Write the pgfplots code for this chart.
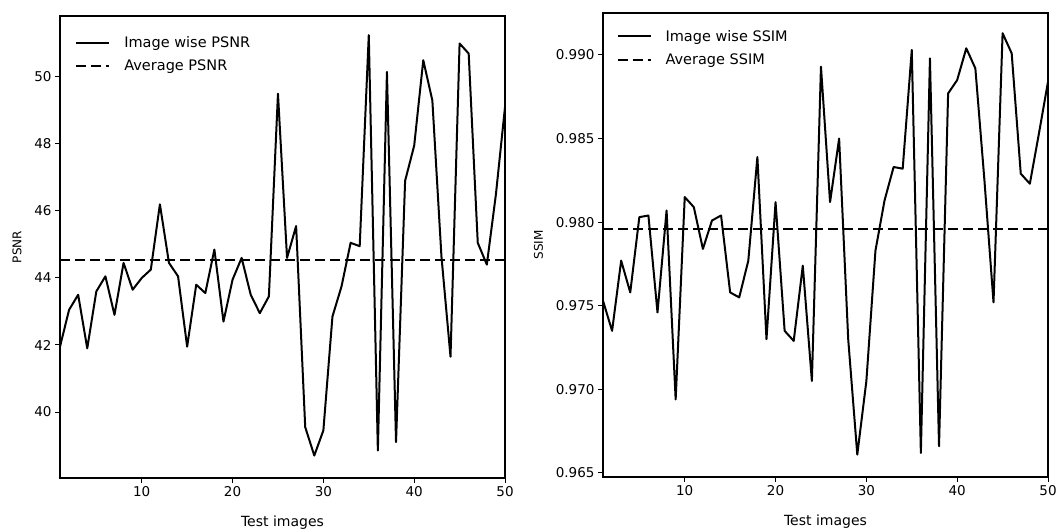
\documentclass[border=0pt]{standalone}
\usepackage{fontspec}
\setmainfont{DejaVu Sans}
\usepackage{pgfplots}
\pgfplotsset{compat=1.18}
\pgfplotstableread{
x y
1 41.95
2 43.05
3 43.5
4 41.9
5 43.6
6 44.05
7 42.9
8 44.45
9 43.65
10 44.0
11 44.25
12 46.2
13 44.45
14 44.05
15 41.95
16 43.8
17 43.55
18 44.85
19 42.7
20 43.95
21 44.6
22 43.5
23 42.95
24 43.45
25 49.5
26 44.6
27 45.55
28 39.55
29 38.7
30 39.45
31 42.85
32 43.75
33 45.05
34 44.95
35 51.25
36 38.85
37 50.15
38 39.1
39 46.9
40 47.95
41 50.5
42 49.3
43 44.65
44 41.65
45 51.0
46 50.7
47 45.05
48 44.4
49 46.5
50 49.1
}\psnr
\pgfplotstableread{
x y
1 0.9753
2 0.9735
3 0.9777
4 0.9758
5 0.9803
6 0.9804
7 0.9746
8 0.9807
9 0.9694
10 0.9815
11 0.9809
12 0.9784
13 0.9801
14 0.9804
15 0.9758
16 0.9755
17 0.9777
18 0.9839
19 0.9730
20 0.9812
21 0.9735
22 0.9729
23 0.9774
24 0.9705
25 0.9893
26 0.9812
27 0.9850
28 0.9730
29 0.9661
30 0.9705
31 0.9783
32 0.9813
33 0.9833
34 0.9832
35 0.9903
36 0.9662
37 0.9898
38 0.9666
39 0.9877
40 0.9885
41 0.9904
42 0.9892
43 0.9825
44 0.9752
45 0.9913
46 0.9901
47 0.9829
48 0.9823
49 0.9853
50 0.9884
}\ssim
\pgfplotsset{
  common/.style={
    scale only axis,
    width=445pt,
    xmin=1, xmax=50,
    xtick={10,20,30,40,50},
    tick align=outside,
    major tick length=5pt,
    tick style={line width=1pt, black},
    axis line style={line width=1.3pt},
    tick pos=left,
    /pgf/number format/assume math mode=true,
    ticklabel style={font=\fontsize{13.5}{16}\selectfont},
    xlabel={Test images},
    xlabel style={font=\fontsize{14}{16}\selectfont, yshift=-12pt},
    ylabel style={font=\fontsize{12}{14}\selectfont, yshift=6pt},
    legend cell align=left,
    legend style={draw=none, fill=none, font=\fontsize{14.5}{17}\selectfont,
      anchor=north west, inner sep=0pt, row sep=7pt,
      /tikz/every odd column/.append style={column sep=12pt}},
    legend image code/.code={\draw[##1] (0pt,0pt) -- (33pt,0pt);},
  },
  sline/.style={black, line width=2pt, line join=round},
  dline/.style={black, line width=2pt, dash pattern=on 10pt off 5pt},
}
\begin{document}
\begin{tikzpicture}
\path[use as bounding box] (-60pt,-53pt) rectangle (999pt,478pt);
\begin{axis}[common,
  at={(0pt,0pt)}, anchor=south west,
  height=462pt,
  ymin=38.03, ymax=51.82,
  ytick={40,42,44,46,48,50},
  ylabel={PSNR},
  legend style={at={(rel axis cs:0.034,0.96)}},
]
\addplot[sline] table[x=x,y=y]{\psnr};
\addlegendentry{Image wise PSNR}
\addplot[dline] coordinates {(1,44.55) (50,44.55)};
\addlegendentry{Average PSNR}
\end{axis}
\begin{axis}[common,
  at={(543pt,1pt)}, anchor=south west,
  height=464pt,
  ymin=0.96476, ymax=0.99251,
  ytick={0.965,0.970,0.975,0.980,0.985,0.990},
  yticklabels={0.965,0.970,0.975,0.980,0.985,0.990},
  ylabel={SSIM},
  legend style={at={(rel axis cs:0.03,0.968)}},
]
\addplot[sline] table[x=x,y=y]{\ssim};
\addlegendentry{Image wise SSIM}
\addplot[dline] coordinates {(1,0.9796) (50,0.9796)};
\addlegendentry{Average SSIM}
\end{axis}
\end{tikzpicture}
\end{document}
